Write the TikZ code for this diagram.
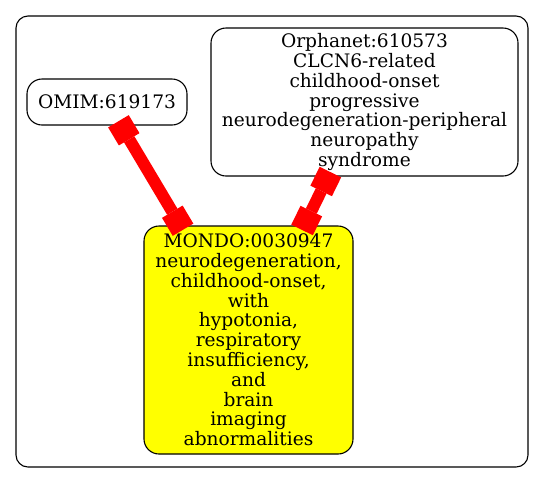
\documentclass[tikz,border=0pt]{standalone}
\usepackage{fontspec}
\setmainfont{DejaVu Serif}
\usetikzlibrary{arrows.meta,positioning}
\definecolor{focusyellow}{RGB}{255,255,0}

\begin{document}
\begin{tikzpicture}[
  x=1pt, y=-1pt,
  box/.style={draw, rounded corners=15pt, align=center, inner sep=0pt, line width=1.1pt, font=\fontsize{18.6}{19.8}\selectfont},
  term/.style={box, fill=white},
  focus/.style={box, fill=focusyellow},
  grp/.style={draw, rounded corners=12pt, line width=1.1pt, inner sep=0pt},
  assoc/.style={draw=red, line width=12pt,
    {Square[length=21pt,width=24pt,line width=0pt]}-{Square[length=21pt,width=24pt,line width=0pt]},
    shorten <=-5pt, shorten >=-5pt}
]
\useasboundingbox (0,0) rectangle (545,483);
\node[grp, minimum width=512pt, minimum height=451pt] (cluster) at (272,241.5) {};

\node[term, minimum width=160pt, minimum height=46pt] (omim) at (107,102) {OMIM:619173};
\node[term, minimum width=307pt, minimum height=148pt] (orpha) at (364.5,102)
  {Orphanet:610573\\CLCN6-related\\childhood-onset\\progressive\\neurodegeneration-peripheral\\neuropathy\\syndrome};
\node[focus, minimum width=209pt, minimum height=228pt] (mondo) at (248.5,340)
  {MONDO:0030947\\neurodegeneration,\\childhood-onset,\\with\\hypotonia,\\respiratory\\insufficiency,\\and\\brain\\imaging\\abnormalities};

\draw[assoc] (omim) -- (mondo);
\draw[assoc] (orpha) -- (mondo);
\end{tikzpicture}
\end{document}
